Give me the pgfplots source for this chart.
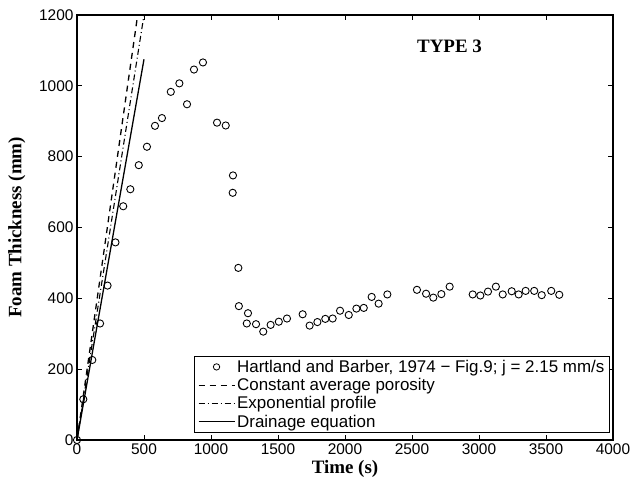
\documentclass[border=0pt]{standalone}
\usepackage{fontspec}
\setmainfont{Liberation Sans}
\newfontfamily\timesfont{Liberation Serif}
\usepackage{pgfplots}
\pgfplotsset{compat=1.18}
\begin{document}
\begin{tikzpicture}
\useasboundingbox (-77bp,-48bp) rectangle (558bp,440bp);
\begin{axis}[
  scale only axis,
  width=536bp, height=425bp,
  xmin=0, xmax=4000, ymin=0, ymax=1200,
  xtick={0,500,...,4000}, ytick={0,200,...,1200},
  tick align=inside,
  major tick length=5bp,
  axis line style={line width=1.1pt},
  every tick/.style={black, line width=0.8pt},
  /pgf/number format/assume math mode=true,
  /pgf/number format/1000 sep={},
  tick label style={font=\fontsize{15.5}{17}\selectfont},
  xlabel={\timesfont\bfseries Time (s)},
  ylabel={\timesfont\bfseries Foam Thickness (mm)},
  label style={font=\fontsize{19}{21}\selectfont},
  xlabel style={yshift=1bp},
  ylabel style={yshift=7bp},
  legend cell align=left,
  legend style={at={(0.994,0.0165)}, anchor=south east, draw=black, line width=0.9pt,
    font=\fontsize{17}{19}\selectfont, row sep=0.5bp, inner xsep=3bp, inner ysep=2bp},
  legend image code/.code={\draw[#1] (0bp,0bp) -- (36bp,0bp);},
]
\addplot[only marks, mark=o, mark size=3.6bp, mark options={line width=0.9pt, black}, black,
  legend image code/.code={\draw[mark=o, mark size=3.2bp, mark options={line width=0.8pt}] plot coordinates {(18bp,0bp)};}]
  coordinates {
(0,0) (47,115) (114,226) (172,329) (228,436) (287,558) (345,660) (398,708)
(461,776) (522,828) (582,887) (634,909) (700,983) (764,1007) (821,948)
(873,1046) (940,1066) (1045,896) (1110,888) (1164,747) (1162,698) (1204,486)
(1208,378) (1276,358) (1267,329) (1336,327) (1390,306) (1445,325) (1506,334)
(1567,343) (1684,355) (1736,323) (1794,333) (1853,342) (1908,343) (1963,365)
(2028,353) (2085,371) (2140,373) (2199,404) (2251,385) (2316,411) (2537,424)
(2605,413) (2659,402) (2719,412) (2781,433) (2953,411) (3010,408) (3067,419)
(3126,433) (3177,411) (3244,420) (3296,411) (3348,421) (3412,421) (3468,409)
(3539,421) (3599,410)
};
\addlegendentry{Hartland and Barber, 1974 − Fig.9; j = 2.15 mm/s}
\addplot[black, line width=1.3pt, dash pattern=on 6bp off 5bp] coordinates {(0,0) (500,1325)};
\addlegendentry{Constant average porosity}
\addplot[black, line width=1.1pt, dash pattern=on 6bp off 3bp on 1bp off 3bp] coordinates {(0,0) (500,1200)};
\addlegendentry{Exponential profile}
\addplot[black, line width=1.3pt] coordinates {(0,0) (500,1075)};
\addlegendentry{Drainage equation}
\node[font=\timesfont\bfseries\fontsize{19}{21}\selectfont] at (axis cs:2780,1112) {TYPE 3};
\end{axis}
\end{tikzpicture}
\end{document}
